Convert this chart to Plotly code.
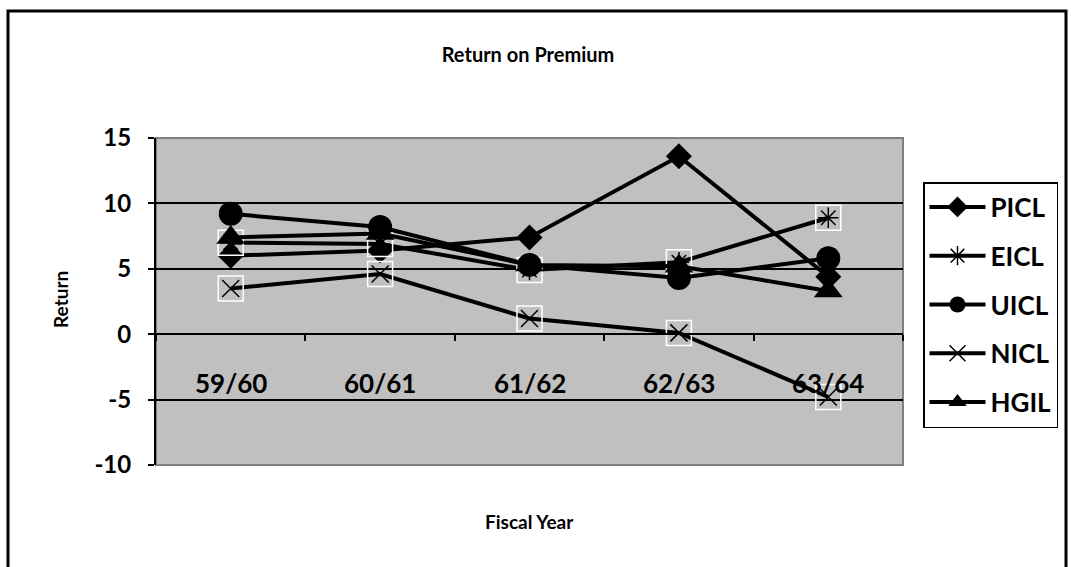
import plotly.graph_objects as go

# Fiscal years on the category axis
years = ["59/60", "60/61", "61/62", "62/63", "63/64"]

# Return on premium per company
picl = [6.0, 6.4, 7.4, 13.6, 4.4]
eicl = [7.0, 6.9, 4.9, 5.5, 8.9]
uicl = [9.2, 8.2, 5.3, 4.3, 5.8]
nicl = [3.5, 4.6, 1.2, 0.1, -4.8]
hgil = [7.4, 7.7, 5.3, 5.2, 3.3]

y_ticks = [-10, -5, 0, 5, 10, 15]

FONT = "Lato"
BLACK = "#000000"

# plot-area pixel box, used to convert pixel positions into paper fractions
PL, PR, PT, PB = 156, 903, 138, 465
PW, PH = PR - PL, PB - PT


def px(x):
    return (x - PL) / PW


def py(y):
    return (PB - y) / PH


series = [
    ("PICL", picl, dict(symbol="diamond", size=20, color=BLACK), False),
    ("EICL", eicl, dict(symbol="asterisk-open", size=17, color=BLACK,
                        line=dict(color=BLACK, width=1.5)), True),
    ("UICL", uicl, dict(symbol="circle", size=24, color=BLACK), False),
    ("NICL", nicl, dict(symbol="x-thin-open", size=17, color=BLACK,
                        line=dict(color=BLACK, width=1.5)), True),
    ("HGIL", hgil, dict(symbol="triangle-up", size=25, color=BLACK), False),
]

fig = go.Figure()
for name, values, marker, boxed in series:
    fig.add_trace(go.Scatter(
        x=years, y=values, name="<b>%s</b>" % name, legendgroup=name,
        mode="lines+markers",
        line=dict(color=BLACK, width=4),
        marker=marker,
    ))
    if boxed:
        # white square frame drawn around the thin markers
        fig.add_trace(go.Scatter(
            x=years, y=values, legendgroup=name, showlegend=False,
            mode="markers", hoverinfo="skip",
            marker=dict(symbol="square-open", size=25, color="white",
                        line=dict(color="white", width=1.5)),
        ))

annotations = []
# category labels placed below the zero line, inside the plot area
for yr in years:
    annotations.append(dict(x=yr, y=-3.7, text="<b>%s</b>" % yr, showarrow=False,
                            font=dict(family=FONT, size=26, color=BLACK),
                            xref="x", yref="y"))
annotations += [
    dict(text="<b>Return</b>", textangle=-90, x=px(60), y=py(300),
         xref="paper", yref="paper", showarrow=False,
         xanchor="center", yanchor="middle",
         font=dict(family=FONT, size=19, color=BLACK)),
    dict(text="<b>Fiscal Year</b>", x=0.5, y=py(521),
         xref="paper", yref="paper", showarrow=False,
         xanchor="center", yanchor="middle",
         font=dict(family=FONT, size=19, color=BLACK)),
]

fig.update_layout(
    width=1071, height=567,
    margin=dict(l=PL, r=1071 - PR, t=PT, b=567 - PB, autoexpand=False),
    paper_bgcolor="white",
    plot_bgcolor="#C0C0C0",
    font=dict(family=FONT, color=BLACK),
    title=dict(text="<b>Return on Premium</b>", x=528 / 1071, xanchor="center",
               y=1 - 55 / 567, yanchor="middle",
               font=dict(family=FONT, size=20, color=BLACK)),
    showlegend=True,
    legend=dict(
        x=px(923), xanchor="left",
        y=py(182), yanchor="top",
        bordercolor=BLACK, borderwidth=1.5, bgcolor="white",
        font=dict(family=FONT, size=26, color=BLACK),
        tracegroupgap=12, itemsizing="trace", itemwidth=56,
        traceorder="grouped",
    ),
    xaxis=dict(
        type="category", range=[-0.5, 4.5],
        anchor="free", position=0.4,
        showline=True, linecolor=BLACK, linewidth=2,
        ticks="outside", ticklen=6, tickcolor=BLACK, tickwidth=1.5,
        tickson="boundaries", showticklabels=False,
        showgrid=False, zeroline=False, fixedrange=True,
    ),
    yaxis=dict(
        range=[-10, 15], tickvals=y_ticks,
        ticktext=["<b>%d</b>" % v for v in y_ticks],
        tickfont=dict(family=FONT, size=24, color=BLACK),
        ticks="outside", ticklen=6, tickcolor=BLACK, tickwidth=1.5,
        ticklabelstandoff=12,
        showline=True, linecolor=BLACK, linewidth=2,
        showgrid=True, gridcolor=BLACK, gridwidth=1.5,
        zeroline=False, fixedrange=True,
    ),
    annotations=annotations,
    shapes=[
        # grey frame of the plot area
        dict(type="rect", xref="paper", yref="paper", x0=0, x1=1, y0=0, y1=1,
             line=dict(color="#808080", width=2), layer="below"),
        # outer chart border
        dict(type="rect", xref="paper", yref="paper",
             x0=px(8), x1=px(1066), y0=py(580), y1=py(11),
             line=dict(color=BLACK, width=3)),
    ],
)

fig.write_html("out.html")
